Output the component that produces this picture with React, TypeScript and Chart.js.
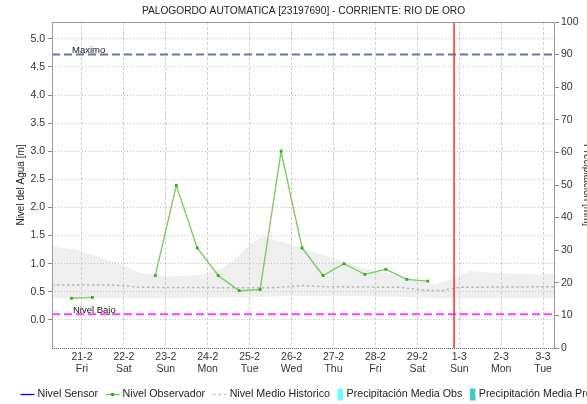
import React, { useEffect, useRef } from 'react';
import { Chart, registerables } from 'chart.js';

Chart.register(...registerables);

const TITLE = 'PALOGORDO AUTOMATICA [23197690] - CORRIENTE: RIO DE ORO';
const LEFT_TITLE = 'Nivel del Agua [m]';
const RIGHT_TITLE = 'Precipitación [mm]';

// x axis: days from 21-2 (0) to 3-3 (11)
const dateLabels = ['21-2', '22-2', '23-2', '24-2', '25-2', '26-2', '27-2', '28-2', '29-2', '1-3', '2-3', '3-3'];
const dayLabels = ['Fri', 'Sat', 'Sun', 'Mon', 'Tue', 'Wed', 'Thu', 'Fri', 'Sat', 'Sun', 'Mon', 'Tue'];
const dayTicks = [0, 1, 2, 3, 4, 5, 6, 7, 8, 9, 10, 11];
const xMin = -0.715;
const xMax = 11.285;

// left axis (water level, m)
const levelTicks = [0, 0.5, 1, 1.5, 2, 2.5, 3, 3.5, 4, 4.5, 5];
const levelMin = -0.5;
const levelMax = 5.3;

// right axis (precipitation, mm)
const precipMin = 0;
const precipMax = 100;
const precipStep = 10;

// reference levels
const nivelMaximo = 4.72;
const nivelBajo = 0.1;
const nowTime = 8.877;

// observed level (every 12 h)
const obsTimes = [-0.25, 0.25, 0.75, 1.25, 1.75, 2.25, 2.75, 3.25, 3.75, 4.25, 4.75, 5.25, 5.75, 6.25, 6.75, 7.25, 7.75, 8.25];
const obsValues = [0.385, 0.4, null, null, 0.79, 2.39, 1.28, 0.79, 0.52, 0.54, 3.0, 1.28, 0.79, 1.0, 0.81, 0.9, 0.72, 0.69];

// historic band (min / max)
const bandTimes = [-0.715, -0.12, 0.2, 0.91, 1.39, 2.1, 2.82, 3.3, 3.61, 4.0, 4.3, 4.8, 5.2, 5.92, 6.63, 7.59, 8.07, 8.43, 8.79, 9.27, 9.98, 11.285];
const bandUpper = [1.3, 1.25, 1.17, 0.99, 0.84, 0.77, 0.8, 0.9, 1.05, 1.34, 1.49, 1.38, 1.29, 1.12, 0.93, 0.78, 0.69, 0.63, 0.72, 0.87, 0.83, 0.81];
const bandLower = [0.39, 0.39, 0.39, 0.39, 0.39, 0.39, 0.4, 0.4, 0.4, 0.4, 0.41, 0.42, 0.42, 0.42, 0.42, 0.41, 0.4, 0.39, 0.39, 0.39, 0.39, 0.39];

// historic mean level
const histTimes = [-0.715, 0.8, 1.4, 4.5, 5.3, 5.8, 7.6, 8.1, 8.6, 9.0, 11.285];
const histValues = [0.62, 0.62, 0.58, 0.57, 0.61, 0.59, 0.58, 0.53, 0.52, 0.58, 0.59];

// series without data in this period
const sensorValues: { x: number; y: number }[] = [];
const precipObs: { x: number; y: number }[] = [];
const precipPro: { x: number; y: number }[] = [];

const legendLabels = ['Nivel Sensor', 'Nivel Observador', 'Nivel Medio Historico', 'Precipitación Media Obs', 'Precipitación Media Pronosticada'];
const refLabels = ['Maximo', 'Nivel Bajo'];

const FONT = '"Liberation Sans", Arial, Helvetica, sans-serif';

const zip = (xs: number[], ys: (number | null)[]) => xs.map((x, i) => ({ x, y: ys[i] }));

const decorPlugin = {
  id: 'decor',
  afterDraw(chart: any) {
    const { ctx, chartArea: a, scales } = chart;
    const ys = scales.y;
    ctx.save();

    // plot frame
    ctx.lineWidth = 1;
    ctx.strokeStyle = '#999999';
    ctx.setLineDash([]);
    ctx.beginPath();
    ctx.moveTo(a.left + 0.5, a.bottom);
    ctx.lineTo(a.left + 0.5, a.top + 0.5);
    ctx.lineTo(a.right - 0.5, a.top + 0.5);
    ctx.lineTo(a.right - 0.5, a.bottom);
    ctx.stroke();
    ctx.strokeStyle = '#555555';
    ctx.setLineDash([1, 1]);
    ctx.beginPath();
    ctx.moveTo(a.left, a.bottom + 0.5);
    ctx.lineTo(a.right, a.bottom + 0.5);
    ctx.stroke();
    ctx.setLineDash([]);

    // title
    ctx.fillStyle = '#222222';
    ctx.font = `10.2px ${FONT}`;
    ctx.textAlign = 'center';
    ctx.textBaseline = 'middle';
    ctx.fillText(TITLE, (a.left + a.right) / 2, 11.5);

    // axis titles
    const cy = (a.top + a.bottom) / 2;
    ctx.font = `10px ${FONT}`;
    ctx.save();
    ctx.translate(21, cy);
    ctx.rotate(-Math.PI / 2);
    ctx.textAlign = 'center';
    ctx.textBaseline = 'middle';
    ctx.fillText(LEFT_TITLE, 0, 0);
    ctx.restore();
    ctx.save();
    ctx.translate(583.5, cy);
    ctx.rotate(Math.PI / 2);
    ctx.textAlign = 'center';
    ctx.textBaseline = 'alphabetic';
    ctx.fillText(RIGHT_TITLE, 0, 0);
    ctx.restore();

    // reference labels
    ctx.font = `9.5px ${FONT}`;
    ctx.textAlign = 'left';
    ctx.textBaseline = 'alphabetic';
    ctx.fillStyle = '#111111';
    ctx.fillText(refLabels[0], a.left + 20, ys.getPixelForValue(nivelMaximo) - 1.5);
    ctx.fillText(refLabels[1], a.left + 21, ys.getPixelForValue(nivelBajo) - 1);

    // legend
    const ly = 394.5;
    ctx.font = `10.7px ${FONT}`;
    ctx.textBaseline = 'middle';
    let x = 20.5;
    legendLabels.forEach((label, i) => {
      if (i < 3) {
        ctx.lineWidth = 1.3;
        if (i === 0) ctx.strokeStyle = '#0000ff';
        if (i === 1) ctx.strokeStyle = '#66cc44';
        if (i === 2) { ctx.strokeStyle = '#cccccc'; ctx.setLineDash([3, 2.5]); }
        ctx.beginPath();
        ctx.moveTo(x, ly);
        ctx.lineTo(x + 14, ly);
        ctx.stroke();
        ctx.setLineDash([]);
        if (i === 1) {
          ctx.fillStyle = '#33aa22';
          ctx.fillRect(x + 5.5, ly - 1.5, 3, 3);
        }
        x += 17;
      } else {
        ctx.fillStyle = i === 3 ? '#66ffff' : '#44cccc';
        ctx.fillRect(x, ly - 6, 5.6, 12);
        x += 9;
      }
      ctx.fillStyle = '#222222';
      ctx.fillText(label, x, ly);
      x += ctx.measureText(label).width + 7.5;
    });

    ctx.restore();
  },
};

export default function App() {
  const ref = useRef<HTMLCanvasElement>(null);

  useEffect(() => {
    document.body.style.margin = '0';
    const canvas = ref.current;
    if (!canvas) return;

    const tickFont = { family: FONT, size: 10.5, lineHeight: 1.15 };

    const chart = new Chart(canvas, {
      type: 'line',
      data: {
        datasets: [
          {
            label: 'Nivel Observador',
            data: zip(obsTimes, obsValues),
            borderColor: '#80cc60',
            backgroundColor: '#33aa22',
            borderWidth: 1.4,
            pointStyle: 'rect',
            pointRadius: 2,
            pointBorderWidth: 0,
            pointBackgroundColor: '#33aa22',
            spanGaps: false,
            fill: false,
            yAxisID: 'y',
            order: 0,
          },
          {
            label: 'Nivel Sensor',
            data: sensorValues,
            borderColor: '#0000ff',
            borderWidth: 1.3,
            pointRadius: 0,
            fill: false,
            yAxisID: 'y',
            order: 1,
          },
          {
            label: 'Ahora',
            data: [{ x: nowTime, y: levelMin }, { x: nowTime, y: levelMax }],
            borderColor: '#ff2a2a',
            borderWidth: 1.5,
            pointRadius: 0,
            fill: false,
            yAxisID: 'y',
            order: 2,
          },
          {
            label: 'Maximo',
            data: [{ x: xMin, y: nivelMaximo }, { x: xMax, y: nivelMaximo }],
            borderColor: '#6676a6',
            borderWidth: 2,
            borderDash: [8, 4],
            pointRadius: 0,
            fill: false,
            yAxisID: 'y',
            order: 3,
          },
          {
            label: 'Nivel Bajo',
            data: [{ x: xMin, y: nivelBajo }, { x: xMax, y: nivelBajo }],
            borderColor: '#ff40ff',
            borderWidth: 2,
            borderDash: [8, 4],
            pointRadius: 0,
            fill: false,
            yAxisID: 'y',
            order: 3,
          },
          {
            label: 'Nivel Medio Historico',
            data: zip(histTimes, histValues),
            borderColor: '#b8b8b8',
            borderWidth: 1.5,
            borderDash: [2.5, 2.5],
            pointRadius: 0,
            fill: false,
            yAxisID: 'y',
            order: 4,
          },
          {
            label: 'Banda superior',
            data: zip(bandTimes, bandUpper),
            borderColor: 'rgba(0,0,0,0)',
            borderWidth: 0,
            backgroundColor: '#efefef',
            pointRadius: 0,
            fill: '+1',
            yAxisID: 'y',
            order: 5,
          },
          {
            label: 'Banda inferior',
            data: zip(bandTimes, bandLower),
            borderColor: 'rgba(0,0,0,0)',
            borderWidth: 0,
            pointRadius: 0,
            fill: false,
            yAxisID: 'y',
            order: 5,
          },
          {
            type: 'bar',
            label: 'Precipitación Media Obs',
            data: precipObs,
            backgroundColor: '#66ffff',
            yAxisID: 'y2',
            order: 6,
          },
          {
            type: 'bar',
            label: 'Precipitación Media Pronosticada',
            data: precipPro,
            backgroundColor: '#44cccc',
            yAxisID: 'y2',
            order: 6,
          },
        ] as any,
      },
      options: {
        responsive: false,
        maintainAspectRatio: false,
        animation: false,
        devicePixelRatio: 1,
        layout: { padding: { top: 22, left: 0, right: 0, bottom: 0 } },
        elements: { line: { tension: 0 } },
        plugins: {
          legend: { display: false },
          title: { display: false },
          tooltip: { enabled: false },
          filler: { drawTime: 'beforeDraw' },
        } as any,
        scales: {
          x: {
            type: 'linear',
            position: 'bottom',
            offset: false,
            min: xMin,
            max: xMax,
            afterBuildTicks: (s: any) => {
              s.ticks = dayTicks.map((v) => ({ value: v }));
            },
            afterFit: (s: any) => {
              s.height = 56;
            },
            ticks: {
              autoSkip: false,
              maxRotation: 0,
              padding: 3,
              color: '#333333',
              font: tickFont,
              callback: (v: any) => [dateLabels[v], dayLabels[v]],
            },
            grid: { color: '#cfcfcf', lineWidth: 1, drawTicks: false, offset: false },
            border: { display: false, dash: [3, 2] },
          },
          y: {
            type: 'linear',
            position: 'left',
            min: levelMin,
            max: levelMax,
            afterBuildTicks: (s: any) => {
              s.ticks = levelTicks.map((v) => ({ value: v }));
            },
            afterFit: (s: any) => {
              s.width = 52;
            },
            ticks: {
              padding: 3,
              color: '#333333',
              font: tickFont,
              callback: (v: any) => Number(v).toFixed(1),
            },
            grid: {
              color: '#c4c4c4',
              lineWidth: 1,
              drawTicks: true,
              tickLength: 4,
              tickColor: '#888888',
              tickBorderDash: [],
            },
            border: { display: false, dash: [1, 2] },
          },
          y2: {
            type: 'linear',
            position: 'right',
            min: precipMin,
            max: precipMax,
            afterFit: (s: any) => {
              s.width = 32;
            },
            ticks: {
              stepSize: precipStep,
              padding: 2,
              color: '#333333',
              font: tickFont,
            },
            grid: {
              drawOnChartArea: false,
              drawTicks: true,
              tickLength: 4,
              color: '#888888',
              tickColor: '#888888',
            },
            border: { display: false },
          },
        },
      } as any,
      plugins: [decorPlugin],
    });

    return () => chart.destroy();
  }, []);

  return (
    <div style={{ width: 587, height: 404, background: '#ffffff' }}>
      <canvas ref={ref} width={587} height={404} style={{ display: 'block', width: 587, height: 404 }} />
    </div>
  );
}
